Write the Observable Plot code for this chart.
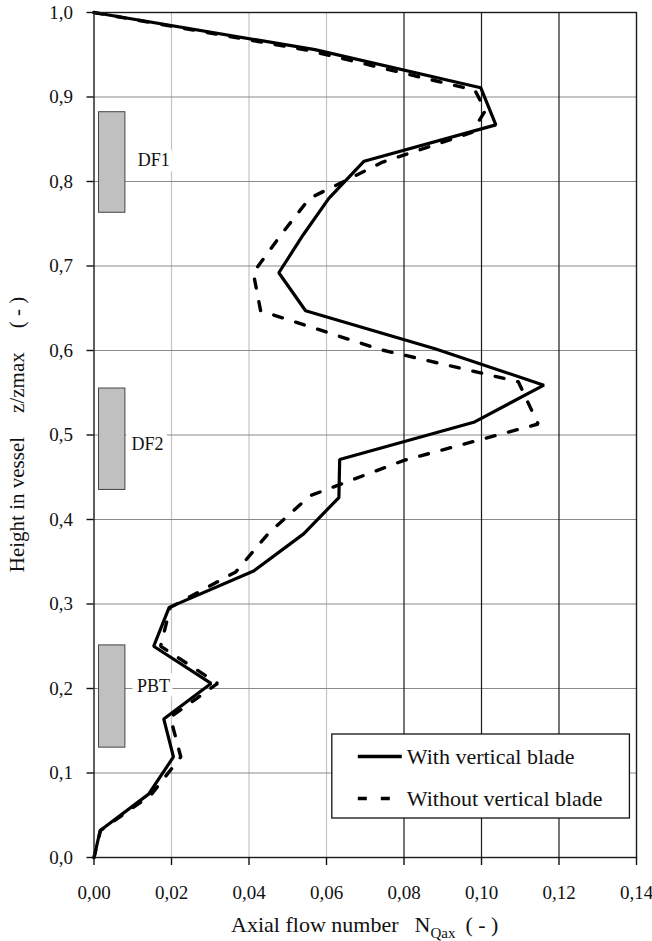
<!DOCTYPE html>
<html>
<head>
<meta charset="utf-8">
<script src="https://cdn.jsdelivr.net/npm/d3@7"></script>
<script src="https://cdn.jsdelivr.net/npm/@observablehq/plot@0.6"></script>
<style>
  html, body { margin: 0; padding: 0; background: #fff; }
  #chart svg { display: block; }
  #chart svg, #chart svg text { font-family: "Liberation Serif", "Times New Roman", serif !important; }
</style>
</head>
<body>
<div id="chart"></div>
<script>
// ---- data ----
const seriesNames = ["With vertical blade", "Without vertical blade"];

const withHeight = [1.0, 0.956, 0.911, 0.867, 0.824, 0.780, 0.737, 0.692, 0.647, 0.602, 0.559, 0.515, 0.471, 0.426, 0.383, 0.339, 0.296, 0.250, 0.206, 0.164, 0.119, 0.075, 0.032, 0.0];
const withFlow   = [0, 0.0570, 0.0998, 0.1037, 0.0697, 0.0606, 0.0540, 0.0477, 0.0546, 0.0880, 0.1161, 0.0980, 0.0634, 0.0632, 0.0541, 0.0412, 0.0194, 0.0154, 0.0302, 0.0180, 0.0205, 0.0141, 0.0016, 0];

const withoutHeight = [1.0, 0.955, 0.908, 0.884, 0.858, 0.823, 0.780, 0.736, 0.692, 0.647, 0.601, 0.563, 0.513, 0.470, 0.428, 0.384, 0.338, 0.296, 0.250, 0.206, 0.166, 0.119, 0.074, 0.032, 0.0];
const withoutFlow   = [0, 0.0555, 0.0983, 0.1010, 0.0975, 0.0745, 0.0556, 0.0481, 0.0411, 0.0430, 0.0740, 0.1095, 0.1146, 0.0800, 0.0557, 0.0451, 0.0366, 0.0197, 0.0172, 0.0319, 0.0197, 0.0224, 0.0147, 0.0017, 0];

// impeller blocks (data units)
const impNames = ["DF1", "DF2", "PBT"];
const impX1 = [0.0013, 0.0013, 0.0013];
const impX2 = [0.0081, 0.0081, 0.0081];
const impY1 = [0.763, 0.435, 0.130];
const impY2 = [0.882, 0.555, 0.251];
const impLabelX = [0.0113, 0.0097, 0.0111];
const impLabelY = [0.8256, 0.4896, 0.2024];

const xTicks = [0, 0.02, 0.04, 0.06, 0.08, 0.10, 0.12, 0.14];
const yTicks = [0, 0.1, 0.2, 0.3, 0.4, 0.5, 0.6, 0.7, 0.8, 0.9, 1.0];
const xGridLight = [0.02, 0.04, 0.06];
const xGridDark = [0.08, 0.10, 0.12];
const yGrid = [0.1, 0.2, 0.3, 0.4, 0.5, 0.6, 0.7, 0.8, 0.9];

// ---- tables ----
const lineRows = [
  ...withHeight.map((h, i) => ({series: seriesNames[0], x: withFlow[i], y: h, order: i})),
  ...withoutHeight.map((h, i) => ({series: seriesNames[1], x: withoutFlow[i], y: h, order: i}))
];
const imps = impNames.map((n, i) => ({name: n, x1: impX1[i], x2: impX2[i], y1: impY1[i], y2: impY2[i], lx: impLabelX[i], ly: impLabelY[i]}));

const FONT = "Liberation Serif";
const fmtX = d => d.toFixed(2).replace(".", ",");
const fmtY = d => d.toFixed(1).replace(".", ",");

const chart = Plot.plot({
  width: 652,
  height: 941,
  marginLeft: 93.5,
  marginRight: 16,
  marginTop: 12,
  marginBottom: 84,
  x: {domain: [0, 0.14]},
  y: {domain: [0, 1]},
  style: {fontFamily: FONT, fontSize: "19px", color: "#111", background: "#fff"},
  marks: [
    Plot.ruleX(xGridLight, {stroke: "#c4c4c4", strokeWidth: 1.2}),
    Plot.ruleY(yGrid, {stroke: "#8a8a8a", strokeWidth: 1.2}),
    Plot.ruleX(xGridDark, {stroke: "#1a1a1a", strokeWidth: 1.2}),
    Plot.text(imps, {x: "lx", y: "ly", text: "name", textAnchor: "start", lineAnchor: "middle",
      fontSize: 18, fontFamily: FONT, fill: "#111", stroke: "#fff", strokeWidth: 12}),
    Plot.rect(imps, {x1: "x1", x2: "x2", y1: "y1", y2: "y2", fill: "#c0c0c0", stroke: "#444", strokeWidth: 1}),
    Plot.line(lineRows.filter(d => d.series === seriesNames[1]), {x: "x", y: "y", sort: "order",
      stroke: "#000", strokeWidth: 3.4, strokeDasharray: "9,14", strokeLinejoin: "miter", curve: "linear"}),
    Plot.line(lineRows.filter(d => d.series === seriesNames[0]), {x: "x", y: "y", sort: "order",
      stroke: "#000", strokeWidth: 3.2, strokeLinejoin: "miter", curve: "linear"}),
    Plot.frame({stroke: "#1a1a1a", strokeWidth: 1.4}),
    Plot.axisX(xTicks, {tickFormat: fmtX, tickSize: 8, tickPadding: 20, label: null, fontSize: 19, fontFamily: FONT, strokeWidth: 1.4}),
    Plot.axisY(yTicks, {tickFormat: fmtY, tickSize: 7, tickPadding: 14, label: null, fontSize: 19, fontFamily: FONT, strokeWidth: 1.4})
  ]
});

document.getElementById("chart").appendChild(chart);

// ---- titles & legend ----
const svg = d3.select(chart);
const sx = chart.scale("x"), sy = chart.scale("y");
const cx = (sx.apply(0) + sx.apply(0.14)) / 2;
const cy = (sy.apply(0) + sy.apply(1)) / 2;

const xt = svg.append("text")
  .attr("x", cx).attr("y", 932)
  .attr("text-anchor", "middle")
  .attr("font-family", FONT).attr("font-size", 22).attr("fill", "#111");
xt.append("tspan").text("Axial flow number");
xt.append("tspan").attr("dx", 16).text("N");
xt.append("tspan").attr("dy", 6).attr("font-size", 15).text("Qax");
xt.append("tspan").attr("dy", -6).attr("dx", 10).text("( - )");

const yt = svg.append("text")
  .attr("transform", `translate(17,${cy}) rotate(-90)`)
  .attr("text-anchor", "middle").attr("dominant-baseline", "central")
  .attr("font-family", FONT).attr("font-size", 21).attr("fill", "#111");
yt.append("tspan").text("Height in vessel");
yt.append("tspan").attr("dx", 24).text("z/zmax");
yt.append("tspan").attr("dx", 24).text("( - )");

// legend
const lg = svg.append("g");
const lx0 = sx.apply(0.0615), lx1 = sx.apply(0.1383);
const ly0 = 734, ly1 = 818;
lg.append("rect").attr("x", lx0).attr("y", ly0).attr("width", lx1 - lx0).attr("height", ly1 - ly0)
  .attr("fill", "#fff").attr("stroke", "#111").attr("stroke-width", 1.3);
const rowsY = [756.5, 798.5];
seriesNames.forEach((name, i) => {
  lg.append("line")
    .attr("x1", lx0 + 26).attr("x2", lx0 + 70)
    .attr("y1", rowsY[i]).attr("y2", rowsY[i])
    .attr("stroke", "#000").attr("stroke-width", 3.4)
    .attr("stroke-dasharray", i === 1 ? "9,14" : null);
  lg.append("text")
    .attr("x", lx0 + 75).attr("y", rowsY[i])
    .attr("text-anchor", "start")
    .attr("dominant-baseline", "central")
    .attr("font-family", FONT).attr("font-size", 22).attr("fill", "#111")
    .text(name);
});
</script>
</body>
</html>
